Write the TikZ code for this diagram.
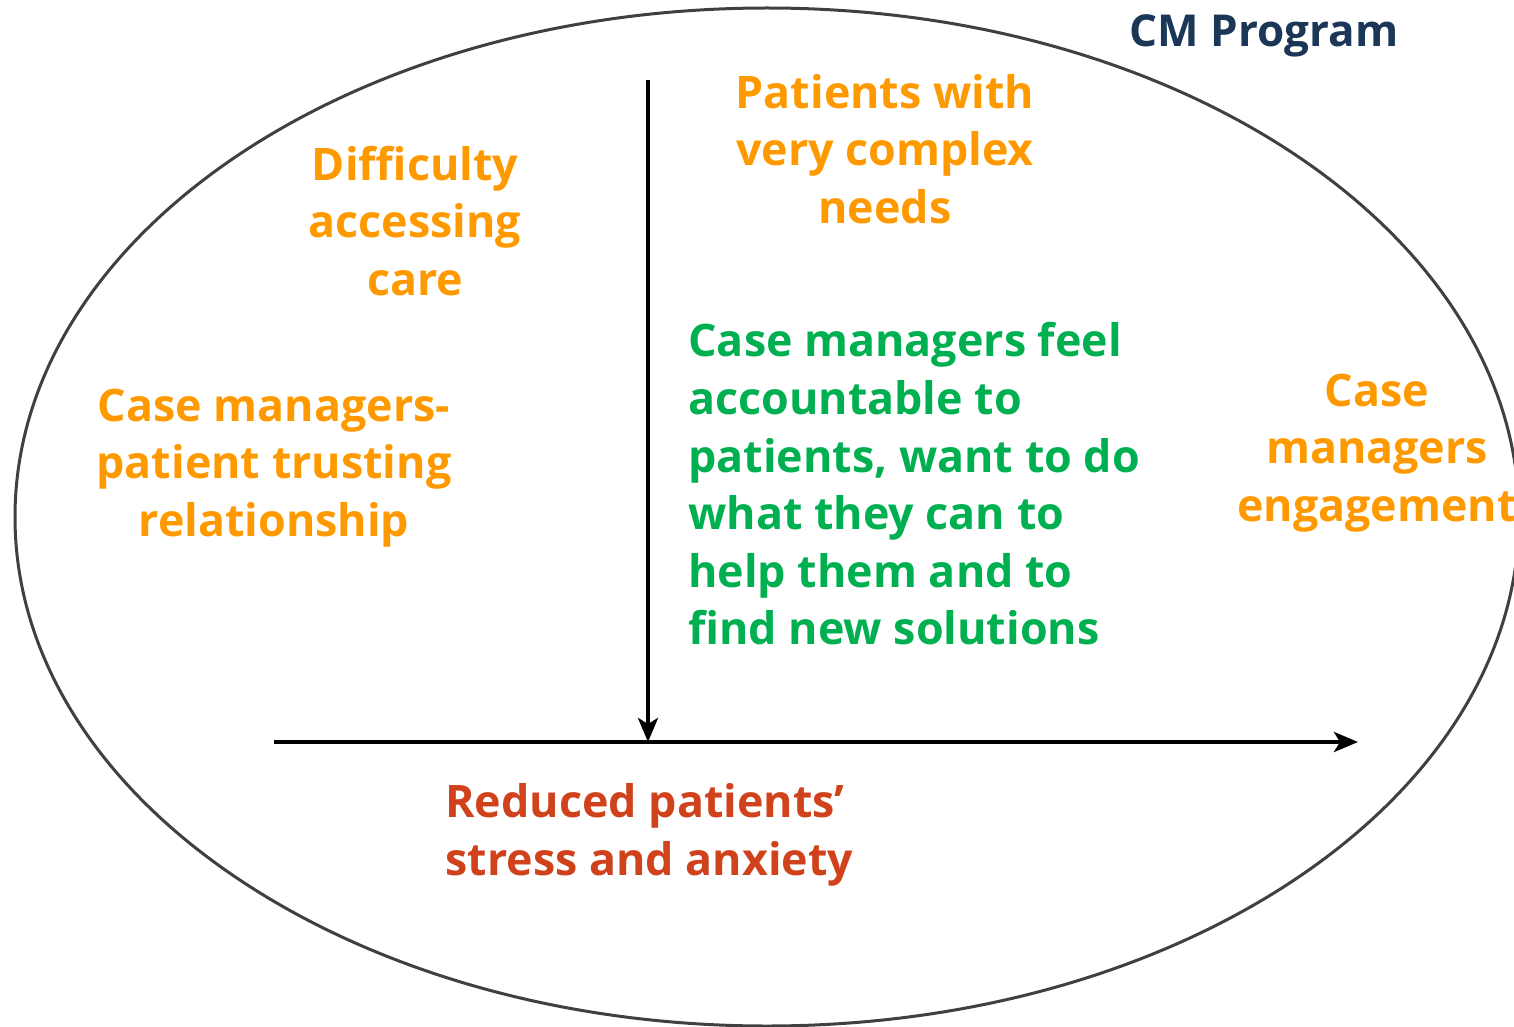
\documentclass[tikz,border=0pt]{standalone}
\usepackage{fontspec}
\setmainfont{Open Sans}
\usetikzlibrary{arrows.meta}
\definecolor{cmorange}{HTML}{FF9900}
\definecolor{cmgreen}{HTML}{00B050}
\definecolor{cmred}{HTML}{D0421B}
\definecolor{cmnavy}{HTML}{1B3656}
\definecolor{cmgray}{HTML}{404040}
\tikzset{
  lbl/.style={font=\bfseries\fontsize{22.4pt}{28.8pt}\selectfont, inner sep=0pt, align=center},
  axis/.style={line width=2pt, -{Stealth[length=12pt,width=10pt,inset=3pt]}},
}
\begin{document}
\begin{tikzpicture}[x=0.5pt,y=-0.5pt]
\useasboundingbox (0,0) rectangle (1514,1027);
\begin{scope}
\clip (0,0) rectangle (1514,1027);
\draw[cmgray, line width=1.5pt] (767,517) ellipse [x radius=752, y radius=509];
\end{scope}
\node[font=\bfseries\fontsize{22pt}{26pt}\selectfont, text=cmnavy, inner sep=0pt] (title) at (1264,36) {CM Program};
\coordinate (vtop) at (648,80);
\coordinate (vbot) at (648,742);
\coordinate (hleft) at (274,742);
\coordinate (hright) at (1358,742);
\draw[axis] (hleft) -- (hright);
\draw[axis] (vtop) -- (vbot);
\node[lbl, text=cmorange] (diff) at (415,221) {Difficulty\\accessing\\care};
\node[lbl, text=cmorange] (complex) at (885,149) {Patients with\\very complex\\needs};
\node[lbl, text=cmorange] (trust) at (274,468) {Case managers-\\patient trusting\\relationship};
\node[lbl, text=cmorange] (engage) at (1377,453) {Case\\managers\\engagement};
\node[lbl, text=cmgreen, align=left, anchor=west] (account) at (688,484) {Case managers feel\\accountable to\\patients, want to do\\what they can to\\help them and to\\find new solutions};
\node[lbl, text=cmred, align=left, anchor=west] (stress) at (445,835) {Reduced patients’\\stress and anxiety};
\end{tikzpicture}
\end{document}
